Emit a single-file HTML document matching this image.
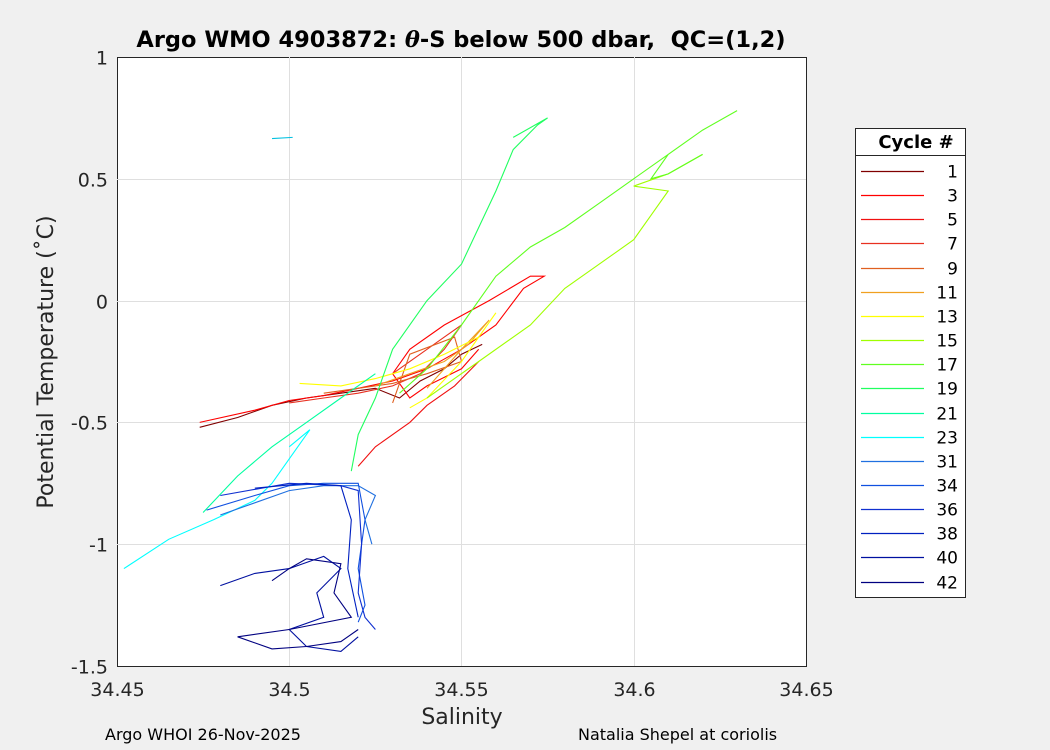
<!DOCTYPE html>
<html><head><meta charset="utf-8"><style>
body{margin:0;background:#f0f0f0;width:1050px;height:750px;overflow:hidden;font-family:"DejaVu Sans","Liberation Sans",sans-serif}
svg{display:block}
</style></head><body>
<svg id="chart" width="1050" height="750" font-family="DejaVu Sans, Liberation Sans, sans-serif">
<rect x="0" y="0" width="1050" height="750" fill="#f0f0f0"/>
<rect x="117.5" y="57.5" width="689" height="609" fill="#fff" stroke="#262626" stroke-width="1"/>
<g id="grid"></g><g id="series"></g><g id="axes"></g>
<text x="461" y="47" text-anchor="middle" font-size="22.5" font-weight="bold" fill="#000" xml:space="preserve" style="white-space:pre">Argo WMO 4903872: <tspan font-style="italic" font-family="DejaVu Serif,serif">θ</tspan>-S below 500 dbar,  QC=(1,2)</text>
<text x="462" y="724" text-anchor="middle" font-size="22" fill="#262626">Salinity</text>
<text transform="translate(53,362) rotate(-90)" text-anchor="middle" font-size="22" fill="#262626">Potential Temperature (˚C)</text>
<text x="105" y="740" font-size="16" fill="#000">Argo WHOI 26-Nov-2025</text>
<text x="578" y="740" font-size="16" fill="#000">Natalia Shepel at coriolis</text>
<g id="legend"></g>
</svg>
<script>
const cycles=[1,3,5,7,9,11,13,15,17,19,21,23,31,34,36,38,40,42];
const colors=["#800000","#ff0000","#f01010","#e83020","#e06020","#f0a020","#ffff00","#a0ff00","#60ff20","#20ff60","#00ffa0","#00ffff","#2070e0","#1050e0","#1030d0","#0020c0","#0010a0","#000080"];
const sal=[
[34.474,34.485,34.495,34.505,34.515,34.525,34.532,34.538,34.545,34.55,34.556],
[34.474,34.49,34.5,34.51,34.52,34.53,34.54,34.55,34.56,34.568,34.574,34.57,34.558,34.545,34.535,34.53,34.535,34.54,34.55,34.555],
[34.52,34.525,34.535,34.54,34.548,34.555],
[34.5,34.51,34.52,34.53,34.538,34.545,34.55,34.545,34.53],
[34.51,34.52,34.53,34.54,34.55,34.548,34.535,34.53],
[34.525,34.535,34.545,34.552,34.558,34.55,34.54],
[34.503,34.515,34.525,34.535,34.545,34.555,34.56,34.55,34.54,34.535],
[34.54,34.555,34.57,34.58,34.59,34.595,34.6,34.605,34.61,34.6,34.61,34.62],
[34.532,34.54,34.55,34.56,34.57,34.58,34.59,34.6,34.61,34.62,34.63,34.62,34.61,34.605,34.61,34.62],
[34.518,34.52,34.525,34.53,34.54,34.55,34.555,34.56,34.565,34.572,34.575,34.565],
[34.475,34.485,34.495,34.505,34.515,34.525],
[34.452,34.465,34.478,34.49,34.495,34.5,34.506,34.5],
[34.48,34.49,34.5,34.51,34.52,34.525,34.522,34.524],
[34.476,34.49,34.5,34.51,34.52,34.522,34.52,34.522,34.52],
[34.48,34.5,34.515,34.52,34.521,34.52,34.522,34.525],
[34.49,34.505,34.515,34.518,34.517,34.52],
[34.48,34.49,34.5,34.51,34.515,34.508,34.51,34.5,34.505,34.515,34.52],
[34.495,34.5,34.505,34.515,34.513,34.518,34.5,34.485,34.495,34.505,34.515,34.52]
];
const temp=[
[-0.52,-0.48,-0.43,-0.40,-0.38,-0.36,-0.40,-0.33,-0.28,-0.22,-0.18],
[-0.50,-0.45,-0.41,-0.39,-0.36,-0.33,-0.28,-0.2,-0.1,0.05,0.1,0.1,0.0,-0.1,-0.2,-0.3,-0.4,-0.35,-0.28,-0.2],
[-0.68,-0.6,-0.5,-0.43,-0.35,-0.25],
[-0.42,-0.4,-0.38,-0.35,-0.3,-0.2,-0.1,-0.15,-0.3],
[-0.38,-0.36,-0.34,-0.3,-0.25,-0.15,-0.22,-0.42],
[-0.35,-0.3,-0.25,-0.18,-0.08,-0.2,-0.36],
[-0.34,-0.35,-0.32,-0.28,-0.22,-0.15,-0.05,-0.25,-0.4,-0.44],
[-0.4,-0.25,-0.1,0.05,0.15,0.2,0.25,0.35,0.45,0.47,0.52,0.6],
[-0.38,-0.28,-0.1,0.1,0.22,0.3,0.4,0.5,0.6,0.7,0.78,0.7,0.6,0.5,0.52,0.6],
[-0.7,-0.55,-0.4,-0.2,0.0,0.15,0.3,0.45,0.62,0.72,0.75,0.67],
[-0.87,-0.72,-0.6,-0.5,-0.4,-0.3],
[-1.1,-0.98,-0.9,-0.82,-0.75,-0.65,-0.53,-0.6],
[-0.88,-0.83,-0.78,-0.76,-0.76,-0.8,-0.9,-1.0],
[-0.86,-0.8,-0.76,-0.75,-0.75,-0.9,-1.1,-1.25,-1.32],
[-0.8,-0.75,-0.76,-0.78,-1.0,-1.2,-1.3,-1.35],
[-0.77,-0.75,-0.76,-0.9,-1.1,-1.3],
[-1.17,-1.12,-1.1,-1.05,-1.1,-1.2,-1.3,-1.35,-1.42,-1.44,-1.38],
[-1.15,-1.1,-1.06,-1.08,-1.2,-1.3,-1.35,-1.38,-1.43,-1.42,-1.4,-1.35]
];
const extraSal=[34.495,34.501];
const extraTemp=[0.665,0.67];
const xTicks=[34.45,34.5,34.55,34.6,34.65];
const xTickLabels=["34.45","34.5","34.55","34.6","34.65"];
const yTicks=[1,0.5,0,-0.5,-1,-1.5];
const yTickLabels=["1","0.5","0","-0.5","-1","-1.5"];
const NS="http://www.w3.org/2000/svg";
const X0=117,X1=806,Y0=57,Y1=666;
const xs=v=>X0+(v-34.45)/(0.2)*(X1-X0);
const ys=v=>Y0+(1-v)/2.5*(Y1-Y0);
function mk(t,a,p){const e=document.createElementNS(NS,t);for(const k in a)e.setAttribute(k,a[k]);p.appendChild(e);return e;}
const grid=document.getElementById('grid'),axes=document.getElementById('axes');
xTicks.forEach((v,i)=>{
 const x=Math.round(xs(v))+0.5;
 if(i>0&&i<xTicks.length-1){const g=mk('line',{x1:x,x2:x,y1:Y0,y2:Y1,stroke:'#dfdfdf'},grid);
 
 }
 const t=mk('text',{x:x,y:Y1+30,'text-anchor':'middle','font-size':'19',fill:'#262626'},axes);t.textContent=xTickLabels[i];
 
 
});
yTicks.forEach((v,i)=>{
 const y=Math.round(ys(v))+0.5;
 if(i>0&&i<yTicks.length-1){const g=mk('line',{x1:X0,x2:X1,y1:y,y2:y,stroke:'#dfdfdf'},grid);
 
 }
 const t=mk('text',{x:X0-9,y:y+7,'text-anchor':'end','font-size':'19',fill:'#262626'},axes);t.textContent=yTickLabels[i];
 
 
});
const sg=document.getElementById('series');
cycles.forEach((c,i)=>{
 const pts=sal[i].map((s,j)=>xs(s).toFixed(1)+','+ys(temp[i][j]).toFixed(1)).join(' ');
 const p=mk('polyline',{points:pts,fill:'none',stroke:colors[i],'stroke-width':'1.1'},sg);
 
 
});
const ex=mk('polyline',{points:extraSal.map((s,j)=>xs(s)+','+ys(extraTemp[j])).join(' '),fill:'none',stroke:'#00c0e0','stroke-width':'1.1'},sg);


const lg=document.getElementById('legend');
mk('rect',{x:855.5,y:128.5,width:110,height:469,fill:'#fff',stroke:'#262626'},lg);
mk('line',{x1:855,x2:965,y1:155.5,y2:155.5,stroke:'#262626'},lg);
const ht=mk('text',{x:916,y:148,'text-anchor':'middle','font-size':'18','font-weight':'bold'},lg);ht.textContent='Cycle #';


cycles.forEach((c,i)=>{
 const y=Math.round(171+i*24.15)+0.5;
 const g=mk('g',{},lg);
 
 
 mk('line',{x1:861,x2:924,y1:y,y2:y,stroke:colors[i],'stroke-width':'1.2'},g);
 const t=mk('text',{x:958,y:y+6,'text-anchor':'end','font-size':'17',fill:'#000'},g);t.textContent=c;
});
</script>
</body></html>
